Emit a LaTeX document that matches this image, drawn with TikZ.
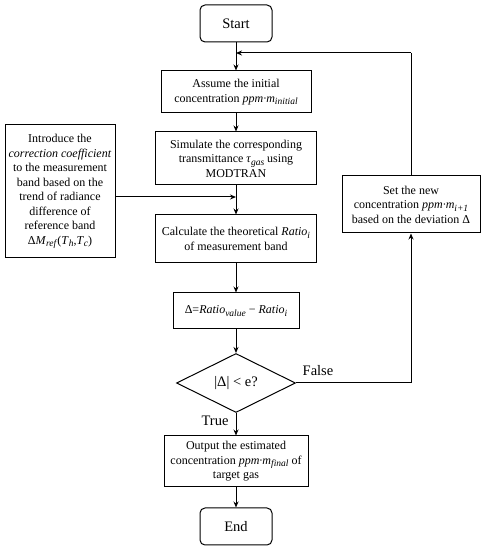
\documentclass[tikz,border=0pt]{standalone}
\usepackage{fontspec}
\setmainfont{Liberation Serif}
\usetikzlibrary{arrows.meta,shapes.geometric}
\newcommand{\mysb}[1]{\raisebox{-2.6pt}{\fontsize{9.5}{9.5}\selectfont\textit{#1}}}
\begin{document}
\begin{tikzpicture}[x=1pt,y=1pt,
  every node/.style={font=\fontsize{12}{14.5}\selectfont},
  big/.style={font=\fontsize{14.5}{16}\selectfont},
  box/.style={draw,line width=1pt,align=center,inner sep=0pt},
  term/.style={box,big,rounded corners=5pt,minimum width=72pt,minimum height=37pt},
  arr/.style={line width=1pt,-{Stealth[length=6pt,width=5pt]}},
  ln/.style={line width=1pt}]
\useasboundingbox (0,0) rectangle (485,550);
\node[term] (start) at (236,526.5) {Start};
\node[box,minimum width=150pt,minimum height=42pt] (assume) at (236,458)
  {Assume the initial\\concentration \textit{ppm·m}\mysb{initial}};
\node[box,minimum width=161pt,minimum height=53pt] (sim) at (236,391.5)
  {Simulate the corresponding\\transmittance \textit{τ}\mysb{gas} using\\MODTRAN};
\node[box,minimum width=110pt,minimum height=133pt] (left) at (60,358.5)
  {Introduce the\\\textit{correction coefficient}\\to the measurement\\band based on the\\trend of radiance\\difference of\\reference band\\Δ\textit{M}\mysb{ref}(\textit{T}\mysb{h},\textit{T}\mysb{c})};
\node[box,minimum width=161pt,minimum height=48pt] (calc) at (236,311)
  {Calculate the theoretical \textit{Ratio}\mysb{i}\\of measurement band};
\node[box,minimum width=126pt,minimum height=36pt] (delta) at (236,239)
  {Δ=\textit{Ratio}\mysb{value} − \textit{Ratio}\mysb{i}};
\node[diamond,draw,big,line width=1pt,minimum width=119pt,minimum height=59pt,inner sep=0pt] (dec) at (236,167) {|Δ| < e?};
\node[box,minimum width=138pt,minimum height=57pt] (set) at (411,345.5)
  {Set the new\\concentration \textit{ppm·m}\mysb{i+1}\\based on the deviation Δ};
\node[box,minimum width=144pt,minimum height=51pt] (out) at (236,88.5)
  {Output the estimated\\concentration \textit{ppm·m}\mysb{final} of\\target gas};
\node[term] (end) at (236,23.5) {End};
\coordinate (fb) at (411,497);
\coordinate (fbin) at (236,497);
\coordinate (join) at (236,353);
\node[big] (false) at (318,179) {False};
\node[big] (true) at (215,129) {True};
\draw[arr] (start) -- (assume);
\draw[arr] (assume) -- (sim);
\draw[arr] (sim) -- (calc);
\draw[arr] (left.east |- join) -- (join);
\draw[arr] (calc) -- (delta);
\draw[arr] (delta) -- (dec);
\draw[arr] (dec) -- (out);
\draw[arr] (out) -- (end);
\draw[arr] (dec.east) -| (set.south);
\draw[ln] (set.north) -- (fb);
\draw[arr] (fb) -- (fbin);
\end{tikzpicture}
\end{document}
